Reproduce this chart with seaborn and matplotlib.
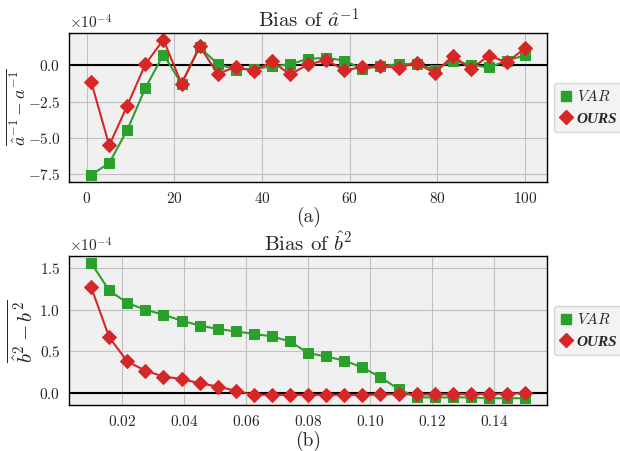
import numpy as np
import pandas as pd
import seaborn as sns
import matplotlib.pyplot as plt
from matplotlib.lines import Line2D

# values are in units of 1e-4
a_x = np.linspace(1, 100, 25)
a_var = [-7.6, -6.77, -4.47, -1.56, 0.76, -1.26, 1.26, 0.11, -0.28, -0.23, -0.07, 0.09, 0.46,
         0.53, 0.34, -0.25, -0.05, 0.09, 0.11, -0.28, 0.34, 0.05, -0.14, 0.34, 0.71]
a_ours = [-1.12, -5.55, -2.78, 0.09, 1.79, -1.28, 1.33, -0.57, -0.11, -0.39, 0.28, -0.62, 0.07,
          0.39, -0.34, -0.11, -0.05, -0.16, 0.18, -0.53, 0.67, -0.25, 0.69, 0.21, 1.22]

b_x = np.linspace(0.01, 0.15, 25)
b_var = [1.56, 1.23, 1.08, 1.00, 0.94, 0.87, 0.81, 0.77, 0.74, 0.71, 0.68, 0.62, 0.48,
         0.44, 0.39, 0.31, 0.19, 0.05, -0.05, -0.05, -0.05, -0.05, -0.06, -0.06, -0.06]
b_ours = [1.27, 0.67, 0.38, 0.27, 0.20, 0.17, 0.12, 0.08, 0.03, -0.02, -0.02, -0.02, -0.02,
          -0.02, -0.02, -0.02, -0.015, -0.01, -0.015, -0.015, -0.01, -0.01, -0.01, -0.005, 0.0]

GREEN = '#2ca02c'
RED = '#d62728'

sns.set_style('whitegrid', {'axes.facecolor': '#f0f0f0', 'axes.edgecolor': 'black',
                            'grid.color': '#c0c0c0'})
plt.rcParams['font.family'] = 'serif'
plt.rcParams['font.serif'] = ['cmr10', 'DejaVu Serif']
plt.rcParams['mathtext.fontset'] = 'cm'
plt.rcParams['axes.formatter.use_mathtext'] = True
plt.rcParams['axes.unicode_minus'] = True

fig, axes = plt.subplots(2, 1, figsize=(6.2, 4.51), dpi=100)
fig.subplots_adjust(left=0.112, right=0.882, top=0.927, bottom=0.102, hspace=0.5)

panels = [
    (axes[0], a_x, a_var, a_ours, r'Bias of $\hat{a}^{-1}$', r'$\overline{\hat{a}^{-1} - a^{-1}}$', '(a)'),
    (axes[1], b_x, b_var, b_ours, r'Bias of $\hat{b}^{2}$', r'$\overline{\hat{b}^{2} - b^{2}}$', '(b)'),
]

for ax, x, var, ours, title, ylab, tag in panels:
    df = pd.DataFrame({'x': x, 'VAR': np.array(var) * 1e-4, 'OURS': np.array(ours) * 1e-4})
    ax.axhline(0, color='black', lw=1.5, zorder=1)
    sns.lineplot(data=df, x='x', y='VAR', ax=ax, color=GREEN, marker='s', markersize=7,
                 markeredgecolor=GREEN, lw=1.5)
    sns.lineplot(data=df, x='x', y='OURS', ax=ax, color=RED, marker='D', markersize=7,
                 markeredgecolor=RED, lw=1.5)
    ax.set_title(title, fontsize=15, pad=4)
    ax.set_ylabel(ylab, fontsize=15, labelpad=2)
    ax.set_xlabel(tag, fontsize=14, labelpad=1)
    ax.tick_params(labelsize=11, length=3, color='black')
    ax.ticklabel_format(axis='y', style='sci', scilimits=(0, 0))
    ax.yaxis.get_offset_text().set_fontsize(11)
    for s in ax.spines.values():
        s.set_linewidth(1.0)
    handles = [Line2D([], [], color=GREEN, marker='s', linestyle='none', markersize=7),
               Line2D([], [], color=RED, marker='D', linestyle='none', markersize=7)]
    leg = ax.legend(handles, [r'$\mathit{VAR}$', 'OURS'], loc='center left',
                    bbox_to_anchor=(1.005, 0.5), fontsize=11,
                    handlelength=0.8, handletextpad=0.3, borderpad=0.4,
                    borderaxespad=0.3, frameon=True)
    leg.get_frame().set_edgecolor('#cccccc')
    t_ours = leg.get_texts()[1]
    t_ours.set_family('Liberation Serif')
    t_ours.set_fontstyle('italic')
    t_ours.set_fontweight('bold')

axes[0].set_ylabel(axes[0].get_ylabel(), fontsize=13)
axes[0].yaxis.set_label_coords(-0.084, 0.5)

axes[0].set_xticks([0, 20, 40, 60, 80, 100])
axes[0].set_yticks([0.0, -2.5e-4, -5.0e-4, -7.5e-4])
axes[1].set_xticks([0.02, 0.04, 0.06, 0.08, 0.10, 0.12, 0.14])
axes[1].set_yticks([0.0, 0.5e-4, 1.0e-4, 1.5e-4])

plt.savefig('out.png', dpi=100)
